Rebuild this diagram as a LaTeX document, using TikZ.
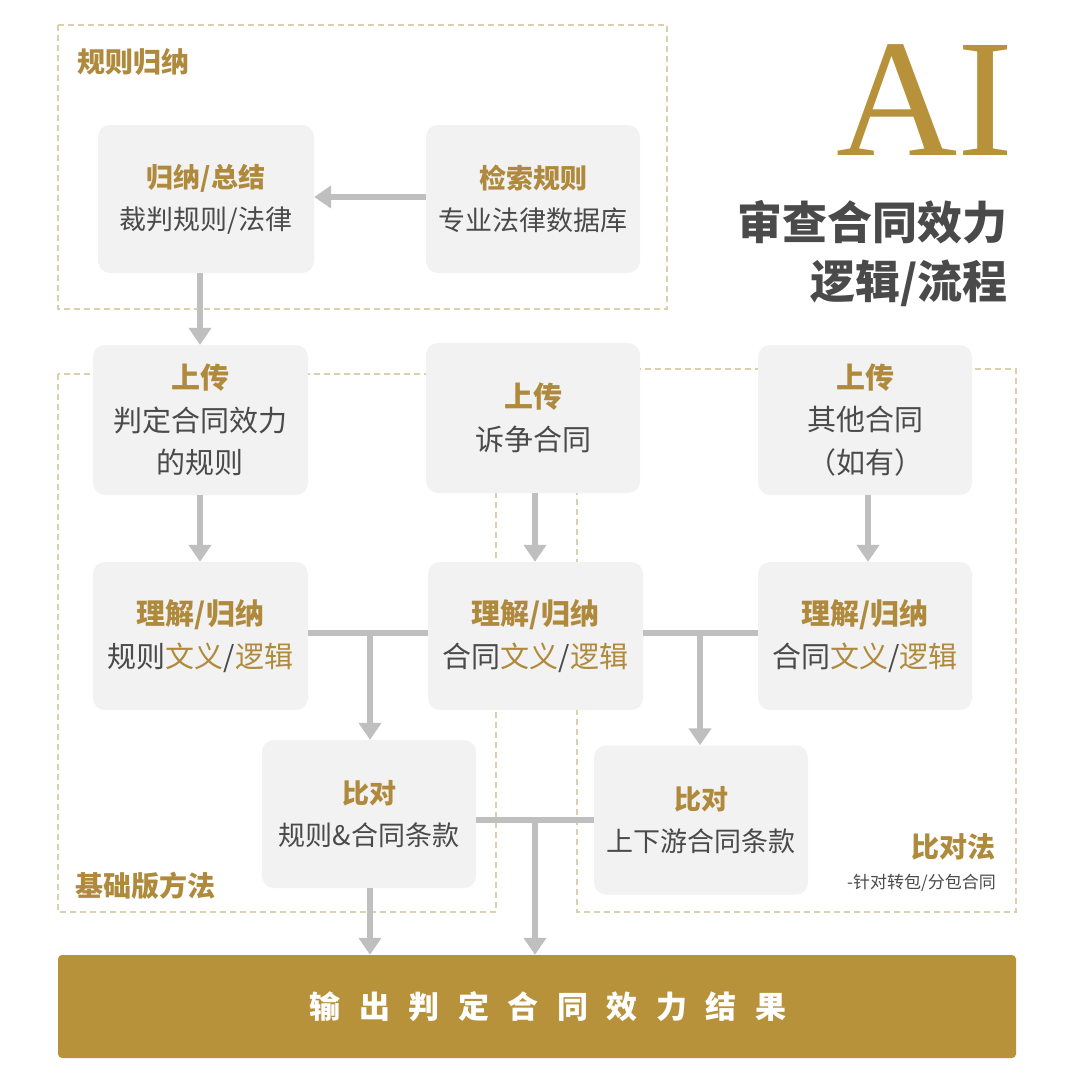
\documentclass[tikz,border=0pt]{standalone}
\usepackage{fontspec}
\setmainfont{Noto Sans CJK SC}
\newfontfamily\aifont{Liberation Serif}
\usetikzlibrary{arrows.meta}
\definecolor{gold}{HTML}{B08A3C}
\definecolor{bargold}{HTML}{B8923A}
\definecolor{txt}{HTML}{4A4A4A}
\definecolor{boxfill}{HTML}{F2F2F2}
\definecolor{conn}{HTML}{BFBFBF}
\definecolor{dash}{HTML}{DCCFAE}
\newcommand{\gd}[1]{\textcolor{gold}{#1}}
\newcommand{\hd}[1]{\textcolor{gold}{\bfseries #1}}
\tikzset{
  card/.style={fill=boxfill, draw=none, rounded corners=12pt, inner sep=0pt, align=center, text=txt,
    font=\fontsize{28}{42.5}\selectfont},
  region/.style={draw=dash, line width=1.6pt, dash pattern=on 6pt off 4pt},
  conline/.style={draw=conn, line width=6.5pt},
  arr/.style={conline, -{Triangle[width=22pt,length=17pt]}},
  regionlabel/.style={text=gold, font=\bfseries\fontsize{28}{34}\selectfont, inner sep=0pt}
}
\begin{document}
\begin{tikzpicture}[x=1pt,y=-1pt]
\useasboundingbox[fill=white] (0,0) rectangle (1080,1080);

% dashed regions
\draw[region] (58,25) rectangle (667,309);
\draw[region] (58,374) rectangle (496,912);
\draw[region] (577,369) rectangle (1016,912);

\node[regionlabel, anchor=west] (lab1) at (77,62) {规则归纳};
\node[regionlabel, anchor=west] (lab2) at (75,886) {基础版方法};
\node[regionlabel, anchor=east] (lab3) at (996,847) {比对法};
\node[text=txt, font=\fontsize{17}{20}\selectfont, anchor=east, inner sep=0pt] (lab3b) at (996,883) {-针对转包/分包合同};

% title
\node[text=bargold, font=\aifont\fontsize{168}{170}\selectfont, anchor=east, inner sep=0pt] (ai) at (1014,100) {AI};
\node[text=txt, font=\bfseries\fontsize{45}{50}\selectfont, anchor=east, inner sep=0pt] (t1) at (1008,222) {审查合同效力};
\node[text=txt, font=\bfseries\fontsize{45}{50}\selectfont, anchor=east, inner sep=0pt] (t2) at (1008,283) {逻辑/流程};

% cards
\node[card, minimum width=216pt, minimum height=148pt, font=\fontsize{27}{42}\selectfont] (A) at (206,199) {\hd{归纳/总结}\\裁判规则/法律};
\node[card, minimum width=214pt, minimum height=148pt, font=\fontsize{27}{42}\selectfont] (B) at (533,199) {\hd{检索规则}\\专业法律数据库};
\node[card, minimum width=215pt, minimum height=150pt, font=\fontsize{29}{42.5}\selectfont] (C) at (200.5,420) {\hd{上传}\\判定合同效力\\的规则};
\node[card, minimum width=214pt, minimum height=150pt, font=\fontsize{29}{42.5}\selectfont] (D) at (533,418) {\hd{上传}\\诉争合同};
\node[card, minimum width=214pt, minimum height=150pt, font=\fontsize{29}{42.5}\selectfont] (E) at (865,420) {\hd{上传}\\其他合同\\（如有）};
\node[card, minimum width=215pt, minimum height=148pt, font=\fontsize{29}{42.5}\selectfont] (F) at (200.5,636) {\hd{理解/归纳}\\规则\gd{文义}/\gd{逻辑}};
\node[card, minimum width=215pt, minimum height=148pt, font=\fontsize{29}{42.5}\selectfont] (G) at (535.5,636) {\hd{理解/归纳}\\合同\gd{文义}/\gd{逻辑}};
\node[card, minimum width=214pt, minimum height=148pt, font=\fontsize{29}{42.5}\selectfont] (H) at (865,636) {\hd{理解/归纳}\\合同\gd{文义}/\gd{逻辑}};
\node[card, minimum width=214pt, minimum height=148pt, font=\fontsize{27}{42.5}\selectfont] (I) at (369,814) {\hd{比对}\\规则\&合同条款};
\node[card, minimum width=214pt, minimum height=149pt, font=\fontsize{27}{42.5}\selectfont] (J) at (701,820) {\hd{比对}\\上下游合同条款};

% output bar
\node[fill=bargold, rounded corners=4pt, minimum width=958pt, minimum height=103pt, inner sep=0pt] (K) at (537,1006.5) {};
\node[text=white, font=\bfseries\fontsize{31}{36}\selectfont, inner sep=0pt] (Kt) at (548,1006.5)
  {输\hspace{18.5pt}出\hspace{18.5pt}判\hspace{18.5pt}定\hspace{18.5pt}合\hspace{18.5pt}同\hspace{18.5pt}效\hspace{18.5pt}力\hspace{18.5pt}结\hspace{18.5pt}果};

% junction coordinates
\coordinate (j1) at (370,633);
\coordinate (j2) at (700,633);
\coordinate (j3) at (535,820);

% connectors
\draw[arr] (B.west |- 0,197) -- (A.east |- 0,197);
\draw[arr] (A.south -| 200,0) -- (C.north -| 200,0);
\draw[arr] (C.south -| 200,0) -- (F.north -| 200,0);
\draw[arr] (D.south -| 535,0) -- (G.north -| 535,0);
\draw[arr] (E.south -| 868,0) -- (H.north -| 868,0);
\draw[conline] (F.east |- j1) -- (G.west |- j1);
\draw[conline] (G.east |- j2) -- (H.west |- j2);
\draw[arr] (j1) -- (I.north -| j1);
\draw[arr] (j2) -- (J.north -| j2);
\draw[conline] (I.east |- j3) -- (J.west |- j3);
\draw[arr] (I.south -| j1) -- (K.north -| j1);
\draw[arr] (j3) -- (K.north -| j3);
\end{tikzpicture}
\end{document}
